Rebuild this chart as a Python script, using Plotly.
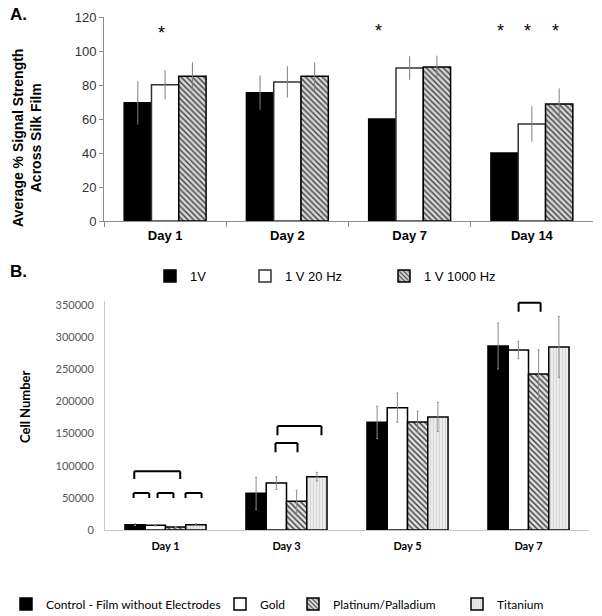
import plotly.graph_objects as go

W, H = 602, 616

# ---------------- Panel A data ----------------
days_a = ["Day 1", "Day 2", "Day 7", "Day 14"]
a_1v = [69.5, 75.5, 60.0, 40.0]
a_1v_err = [12.8, 10.2, 0, 0]
a_20hz = [80.2, 81.8, 90.0, 57.1]
a_20hz_err = [8.6, 9.2, 6.9, 10.4]
a_1000hz = [85.1, 85.1, 90.6, 68.8]
a_1000hz_err = [8.2, 8.4, 6.7, 9.2]
a_ticks = [0, 20, 40, 60, 80, 100, 120]
# significance stars: (day index, bar index, y value)
a_stars = [(0, 1, 110.5), (2, 0, 112.0), (3, 0, 112.0), (3, 1, 112.0), (3, 2, 112.0)]

# ---------------- Panel B data ----------------
days_b = ["Day 1", "Day 3", "Day 5", "Day 7"]
b_control = [8300, 57000, 167500, 286200]
b_control_err = [1500, 25000, 25000, 35800]
b_gold = [7300, 73100, 190300, 280000]
b_gold_err = [900, 10000, 22800, 13500]
b_pt = [4700, 44600, 168000, 242700]
b_pt_err = [1000, 17000, 16600, 37500]
b_ti = [8300, 83000, 175800, 284700]
b_ti_err = [1500, 6700, 22800, 47300]
b_ticks = [0, 50000, 100000, 150000, 200000, 250000, 300000, 350000]
# brackets: (day index, start slot, end slot, top value, leg bottom value); slots in bar widths from group centre
b_brackets = [
    (0, -1.42, 0.67, 91500, 79300),
    (0, -1.45, -0.74, 57600, 49800),
    (0, -0.36, 0.36, 57600, 49800),
    (0, 0.91, 1.64, 57600, 49800),
    (1, -0.50, 0.50, 135300, 120900),
    (1, -0.41, 1.59, 161800, 147300),
    (3, -0.45, 0.55, 353600, 339600),
]

ARIAL = "Arial, Liberation Sans, sans-serif"
CAL = "Lato, Carlito, sans-serif"

# layout geometry (pixels)
ax_l, ax_r, ax_t, ax_b = 104, 593, 17, 221
bx_l, bx_r, bx_t0, bx_b = 105, 589, 305, 530
b_ymax = 357000
bx_t = bx_b - (bx_b - bx_t0) * b_ymax / 350000.0

gap_a = 0.33
gap_b = 0.273

fig = go.Figure()

err_a = dict(type="data", thickness=1, width=0, color="#7f7f7f")

fig.add_trace(go.Bar(x=days_a, y=a_1v, name="1V", xaxis="x", yaxis="y",
                     marker=dict(color="black", line=dict(color="black", width=1.5)),
                     error_y=dict(array=a_1v_err, **err_a), legend="legend"))
fig.add_trace(go.Bar(x=days_a, y=a_20hz, name="1 V 20 Hz", xaxis="x", yaxis="y",
                     marker=dict(color="white", line=dict(color="#333333", width=1.5)),
                     error_y=dict(array=a_20hz_err, **err_a), legend="legend2"))
fig.add_trace(go.Bar(x=days_a, y=a_1000hz, name="1 V 1000 Hz", xaxis="x", yaxis="y",
                     marker=dict(color="#cfcfcf", line=dict(color="black", width=1.5),
                                 pattern=dict(shape="\\", fgcolor="#404040", bgcolor="#d4d4d4",
                                              size=4, solidity=0.35, fillmode="replace")),
                     error_y=dict(array=a_1000hz_err, **err_a), legend="legend3"))

err_b = dict(type="data", thickness=1, width=1, color="#8c8c8c")
fig.add_trace(go.Bar(x=days_b, y=b_control, name="Control - Film without Electrodes", xaxis="x2", yaxis="y2",
                     marker=dict(color="black", line=dict(color="black", width=1.5)),
                     error_y=dict(array=b_control_err, **err_b), legend="legend4"))
fig.add_trace(go.Bar(x=days_b, y=b_gold, name="Gold", xaxis="x2", yaxis="y2",
                     marker=dict(color="white", line=dict(color="black", width=1.5)),
                     error_y=dict(array=b_gold_err, **err_b), legend="legend5"))
fig.add_trace(go.Bar(x=days_b, y=b_pt, name="Platinum/Palladium", xaxis="x2", yaxis="y2",
                     marker=dict(color="#d0d0d0", line=dict(color="black", width=1.5),
                                 pattern=dict(shape="\\", fgcolor="#3a3a3a", bgcolor="#e0e0e0",
                                              size=4, solidity=0.35, fillmode="replace")),
                     error_y=dict(array=b_pt_err, **err_b), legend="legend6"))
fig.add_trace(go.Bar(x=days_b, y=b_ti, name="Titanium", xaxis="x2", yaxis="y2",
                     marker=dict(color="#e6e6e6", line=dict(color="black", width=1.5),
                                 pattern=dict(shape="|", fgcolor="#d2d2d2", bgcolor="#ececec",
                                              size=3, solidity=0.3, fillmode="replace")),
                     error_y=dict(array=b_ti_err, **err_b), legend="legend7"))

def px_x(p):
    return p / W

def px_y(p):
    return 1 - p / H

annotations = []
# stars in panel A
cat_w_a = (ax_r - ax_l) / len(days_a)
bar_w_a = cat_w_a * (1 - gap_a) / 3
for d, i, yv in a_stars:
    annotations.append(dict(x=days_a[d], y=yv, xref="x", yref="y", text="*", showarrow=False,
                            xshift=(i - 1) * bar_w_a - 4, font=dict(family=ARIAL, size=18, color="black")))

# brackets in panel B
bw_b = (1 - gap_b) / 4
shapes = []
for d, s0, s1, top, bot in b_brackets:
    x0 = d + s0 * bw_b
    x1 = d + s1 * bw_b
    ln = dict(color="black", width=2)
    shapes.append(dict(type="line", xref="x2", yref="y2", x0=x0, x1=x1, y0=top, y1=top, line=ln))
    shapes.append(dict(type="line", xref="x2", yref="y2", x0=x0, x1=x0, y0=top, y1=bot, line=ln))
    shapes.append(dict(type="line", xref="x2", yref="y2", x0=x1, x1=x1, y0=top, y1=bot, line=ln))

annotations += [
    dict(x=px_x(8), y=px_y(15), xref="paper", yref="paper", text="<b>A.</b>", showarrow=False,
         xanchor="left", yanchor="middle", font=dict(family=ARIAL, size=17, color="black")),
    dict(x=px_x(8), y=px_y(271), xref="paper", yref="paper", text="<b>B.</b>", showarrow=False,
         xanchor="left", yanchor="middle", font=dict(family=ARIAL, size=17, color="black")),
    dict(x=px_x(27), y=px_y(138), xref="paper", yref="paper",
         text="<b>Average % Signal Strength<br>Across Silk Film</b>", showarrow=False, textangle=-90,
         xanchor="center", yanchor="middle", font=dict(family=ARIAL, size=14, color="black")),
    dict(x=px_x(25), y=px_y(407), xref="paper", yref="paper",
         text="<b>Cell Number</b>", showarrow=False, textangle=-90,
         xanchor="center", yanchor="middle", font=dict(family=CAL, size=13, color="black")),
]

leg_common = dict(orientation="h", xanchor="left", yanchor="middle", bgcolor="rgba(0,0,0,0)",
                  itemclick=False, itemdoubleclick=False)
legA_font = dict(family=ARIAL, size=13, color="black")
legB_font = dict(family=CAL, size=12, color="black")
yA = px_y(276)
yB = px_y(604)

fig.update_layout(
    width=W, height=H,
    margin=dict(l=0, r=0, t=0, b=0, autoexpand=False),
    paper_bgcolor="white", plot_bgcolor="white",
    barmode="group", bargap=gap_a, bargroupgap=0,
    showlegend=True,
    xaxis=dict(domain=[px_x(ax_l), px_x(ax_r)], anchor="y", showline=True, linecolor="#8c8c8c",
               linewidth=1, ticks="outside", tickson="boundaries", ticklen=5, tickcolor="#8c8c8c",
               tickfont=dict(family=ARIAL, size=13, color="black"), showgrid=False,
               tickprefix="<b>", ticksuffix="</b>", ticklabelstandoff=2),
    yaxis=dict(domain=[px_y(ax_b), px_y(ax_t)], anchor="x", range=[0, 120], tickvals=a_ticks,
               showline=True, linecolor="#8c8c8c", linewidth=1, ticks="outside", ticklen=4,
               tickcolor="#8c8c8c", showgrid=False, zeroline=False,
               tickfont=dict(family=ARIAL, size=13, color="#333333")),
    xaxis2=dict(domain=[px_x(bx_l), px_x(bx_r)], anchor="y2", showline=True, linecolor="#c8c8c8",
                linewidth=1, ticks="", showgrid=False, ticklabelstandoff=6,
                tickfont=dict(family=CAL, size=11, color="black"),
                tickprefix="<b>", ticksuffix="</b>"),
    yaxis2=dict(domain=[px_y(bx_b), px_y(bx_t)], anchor="x2", range=[0, b_ymax], tickvals=b_ticks,
                tickformat="d",
                showline=True, linecolor="#c8c8c8", linewidth=1, ticks="", showgrid=False,
                zeroline=False, ticklabelstandoff=8,
                tickfont=dict(family=CAL, size=11, color="#555555")),
    annotations=annotations,
    shapes=shapes,
    legend=dict(x=px_x(150), y=yA, font=legA_font, **leg_common),
    legend2=dict(x=px_x(245), y=yA, font=legA_font, **leg_common),
    legend3=dict(x=px_x(384), y=yA, font=legA_font, **leg_common),
    legend4=dict(x=px_x(6), y=yB, font=legB_font, **leg_common),
    legend5=dict(x=px_x(220), y=yB, font=legB_font, **leg_common),
    legend6=dict(x=px_x(293), y=yB, font=legB_font, **leg_common),
    legend7=dict(x=px_x(457), y=yB, font=legB_font, **leg_common),
)

fig.write_html("out.html", config={"displayModeBar": False},
               post_script="document.body.style.margin='0px';document.body.style.overflow='hidden';")
